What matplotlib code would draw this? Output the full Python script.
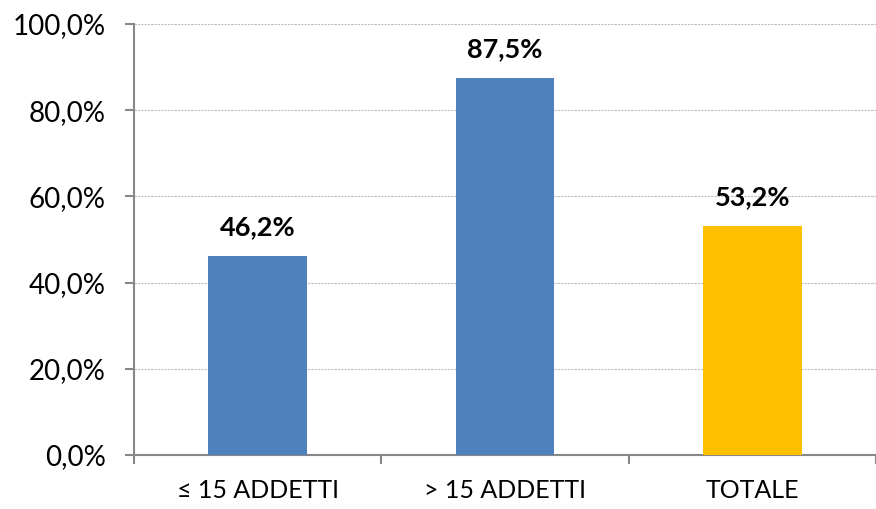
import numpy as np
import matplotlib.pyplot as plt
from matplotlib.ticker import FuncFormatter

categories = ['≤ 15 ADDETTI', '> 15 ADDETTI', 'TOTALE']
values = [46.2, 87.5, 53.2]
colors = ['#4F81BD', '#4F81BD', '#FFC000']

plt.rcParams['font.family'] = ['Lato', 'DejaVu Sans']

fig = plt.figure(figsize=(8.76, 5.09), dpi=100)
ax = fig.add_axes([0.153, 0.106, 0.847, 0.847])

x = np.arange(len(categories))
ax.bar(x, values, width=0.4, color=colors, zorder=3)
for xi, v in zip(x, values):
    ax.annotate(f'{v:.1f}%'.replace('.', ','), (xi, v), xytext=(0, 15),
                textcoords='offset points', ha='center', va='baseline',
                fontsize=19.5, fontweight='bold')

ax.set_xlim(-0.5, 2.5)
ax.set_ylim(0, 100)
ax.set_yticks(np.arange(0, 101, 20))
ax.yaxis.set_major_formatter(FuncFormatter(lambda v, p: f'{v:.1f}%'.replace('.', ',')))
ax.grid(axis='y', color='#bdbdbd', linestyle=(0, (2, 1)), linewidth=0.8, zorder=0)

# category labels centred, ticks on the boundaries
ax.set_xticks([-0.5, 0.5, 1.5, 2.5])
ax.set_xticklabels([])
ax.set_xticks(x, minor=True)
ax.set_xticklabels(categories, minor=True, fontsize=18)
ax.tick_params(axis='x', which='minor', length=0, pad=17)
ax.tick_params(axis='x', which='major', length=6.5, color='#888888', width=1.5, direction='out')
ax.tick_params(axis='y', length=6.5, color='#888888', width=1.5, labelsize=20, pad=14)

for s in ['top', 'right']:
    ax.spines[s].set_visible(False)
for s in ['left', 'bottom']:
    ax.spines[s].set_color('#888888')
    ax.spines[s].set_linewidth(1.5)

fig.savefig('out.png', dpi=100)
